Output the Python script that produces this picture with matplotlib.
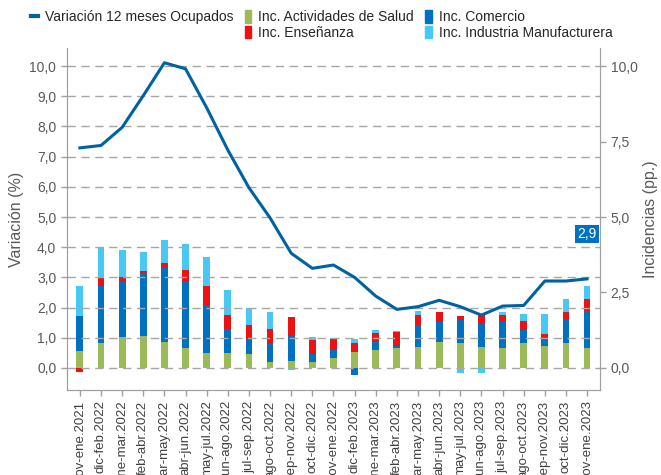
import matplotlib
matplotlib.use("Agg")
import numpy as np
import matplotlib.pyplot as plt
from matplotlib.patches import Patch
from matplotlib.lines import Line2D

plt.rcParams["font.family"] = ["Liberation Sans", "DejaVu Sans"]

periods = [
    "nov-ene.2021", "dic-feb.2022", "ene-mar.2022", "feb-abr.2022", "mar-may.2022",
    "abr-jun.2022", "may-jul.2022", "jun-ago.2022", "jul-sep.2022", "ago-oct.2022",
    "sep-nov.2022", "oct-dic.2022", "nov-ene.2022", "dic-feb.2023", "ene-mar.2023",
    "feb-abr.2023", "mar-may.2023", "abr-jun.2023", "may-jul.2023", "jun-ago.2023",
    "jul-sep.2023", "ago-oct.2023", "sep-nov.2023", "oct-dic.2023", "nov-ene.2023",
]

# variacion 12 meses ocupados (%)
variacion = [7.29, 7.37, 7.97, 9.02, 10.11, 9.91, 8.62, 7.22, 5.97, 4.97,
             3.80, 3.30, 3.41, 3.00, 2.38, 1.94, 2.03, 2.24, 2.03, 1.75,
             2.05, 2.07, 2.88, 2.88, 2.95]

# incidencias (pp.)
inc_salud = [0.55, 0.84, 1.02, 1.05, 0.85, 0.65, 0.50, 0.50, 0.47, 0.21,
             0.22, 0.19, 0.33, 0.52, 0.59, 0.66, 0.70, 0.87, 0.82, 0.68,
             0.66, 0.82, 0.74, 0.82, 0.65]
inc_comercio = [1.17, 1.88, 1.86, 2.11, 2.47, 2.23, 1.59, 0.78, 0.48, 0.59,
                0.84, 0.28, 0.27, -0.23, 0.27, 0.07, 0.71, 0.65, 0.77, 0.77,
                0.90, 0.45, 0.26, 0.79, 1.23]
inc_ensenanza = [-0.13, 0.26, 0.12, 0.05, 0.16, 0.38, 0.62, 0.49, 0.46, 0.48,
                 0.62, 0.46, 0.37, 0.31, 0.29, 0.47, 0.34, 0.32, 0.14, 0.29,
                 0.21, 0.28, 0.12, 0.25, 0.40]
inc_industria = [1.00, 1.03, 0.90, 0.63, 0.77, 0.83, 0.96, 0.82, 0.59, 0.57,
                 -0.07, 0.08, 0.02, 0.14, 0.10, 0.04, 0.12, 0.02, -0.17, -0.17,
                 0.07, 0.23, 0.66, 0.41, 0.42]

last_label = "2,9"

c_line = "#0062A0"
c_salud = "#9BBB59"
c_comercio = "#0070C0"
c_ensenanza = "#EE1111"
c_industria = "#47C8F5"
grey = "#595959"

fig = plt.figure(figsize=(6.61, 4.75), dpi=100)
ax = fig.add_axes([0.101, 0.179, 0.807, 0.72])
ax2 = ax.twinx()

x = np.arange(len(periods))
pos_bottom = np.zeros(len(periods))
neg_bottom = np.zeros(len(periods))
for vals, col in [(inc_salud, c_salud), (inc_comercio, c_comercio),
                  (inc_ensenanza, c_ensenanza), (inc_industria, c_industria)]:
    vals = np.array(vals)
    bottom = np.where(vals >= 0, pos_bottom, neg_bottom)
    ax2.bar(x, vals, width=0.32, bottom=bottom, color=col, zorder=3)
    pos_bottom += np.where(vals >= 0, vals, 0)
    neg_bottom += np.where(vals < 0, vals, 0)

ax.plot(x, variacion, color=c_line, linewidth=2.2, zorder=4)

ylim = (-0.73, 10.6)
ax.set_ylim(*ylim)
ax2.set_ylim(*ylim)
ax.set_xlim(-0.62, len(periods) - 1 + 0.62)

ax.set_yticks(np.arange(0, 11, 1))
ax.set_yticklabels([f"{v:.1f}".replace(".", ",") for v in np.arange(0, 11, 1)])
ax2.set_yticks(np.arange(0, 10.1, 2.5))
ax2.set_yticklabels([f"{v:.1f}".replace(".", ",") for v in np.arange(0, 10.1, 2.5)])

ax.set_xticks(x)
ax.set_xticklabels(periods, rotation=90)

ax.grid(axis="y", color="#A6A6A6", linestyle=(0, (6, 4)), linewidth=1)
ax.set_axisbelow(True)
ax.set_zorder(ax2.get_zorder() + 1)
ax.patch.set_visible(False)
ax.lines[0].set_zorder(5)

for a in (ax, ax2):
    for s in a.spines.values():
        s.set_color("#A0A0A0")
    a.spines["top"].set_visible(False)
    a.tick_params(colors=grey, labelsize=10, length=4, width=1)
    a.tick_params(axis="both", color="#A0A0A0")
ax.tick_params(axis="x", labelsize=9.5, labelcolor="#404040")

ax.set_ylabel("Variación (%)", color=grey, fontsize=11.5)
ax2.set_ylabel("Incidencias (pp.)", color=grey, fontsize=11.5, labelpad=4)

ax2.text(x[-1], 4.45, last_label, color="white", fontsize=10, ha="center", va="center",
         bbox=dict(boxstyle="square,pad=0.15", facecolor=c_comercio, edgecolor="none"),
         zorder=6)

handles = [
    Line2D([0], [0], color=c_line, linewidth=3),
    Patch(color="none"),
    Patch(color=c_salud),
    Patch(color=c_ensenanza),
    Patch(color=c_comercio),
    Patch(color=c_industria),
]
labels = ["Variación 12 meses Ocupados", "", "Inc. Actividades de Salud",
          "Inc. Enseñanza", "Inc. Comercio", "Inc. Industria Manufacturera"]
fig.legend(handles, labels, loc="upper center", bbox_to_anchor=(0.487, 1.005), ncol=3,
           frameon=False, fontsize=10, handlelength=0.5, handleheight=1.0,
           handletextpad=0.5, columnspacing=0.8, labelspacing=0.1,
           labelcolor="#262626")

fig.savefig("out.png", dpi=100)
